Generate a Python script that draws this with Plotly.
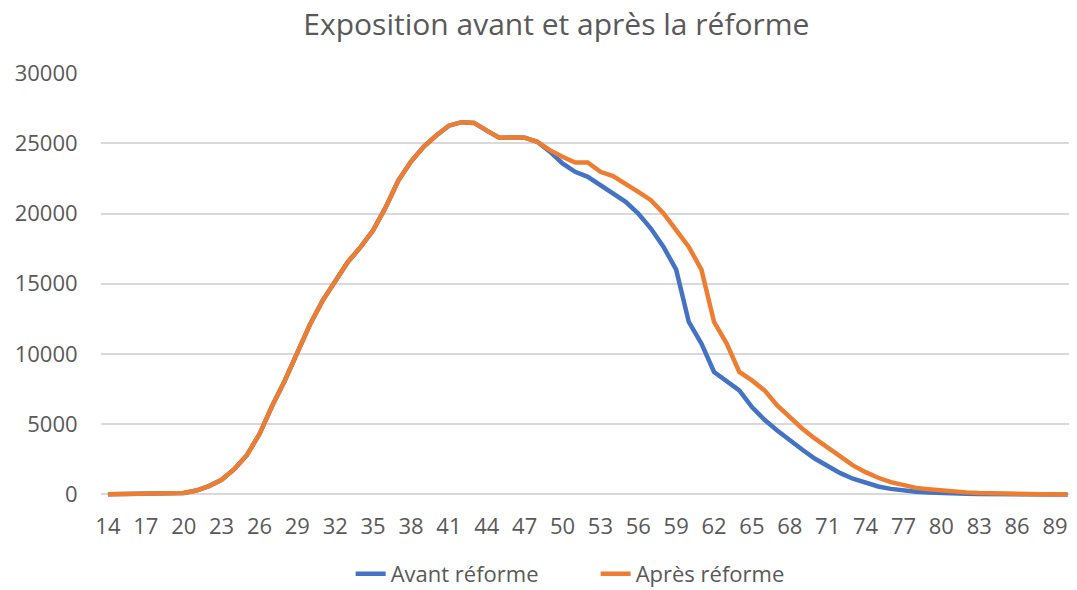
import plotly.graph_objects as go

ages = list(range(14, 91))

avant = [10, 15, 20, 25, 40, 60, 110, 280, 600, 1050, 1800, 2800, 4300, 6300, 8100,
         10100, 12100, 13800, 15250, 16550, 17600, 18800, 20450, 22350, 23700, 24750,
         25550, 26250, 26500, 26450, 25900, 25400, 25420, 25400, 25100,
         24400, 23560, 22970, 22610, 22020, 21430, 20830, 20000, 18930, 17620, 16000,
         12280, 10740, 8720, 8080, 7410, 6220, 5320, 4560, 3850, 3180, 2540, 2000,
         1520, 1120, 810, 570, 400, 285, 190, 150, 100, 70, 50, 35, 25, 18, 12, 8, 5, 3, 2]

apres = [10, 15, 20, 25, 40, 60, 110, 280, 600, 1050, 1800, 2800, 4300, 6300, 8100,
         10100, 12100, 13800, 15250, 16550, 17600, 18800, 20450, 22350, 23700, 24750,
         25550, 26250, 26500, 26450, 25900, 25400, 25420, 25400, 25100,
         24510, 24040, 23630, 23630, 22970, 22660, 22140, 21540, 20950, 20000, 18810,
         17620, 16000, 12280, 10740, 8720, 8120, 7410, 6340, 5510, 4680, 3970, 3330,
         2660, 2070, 1590, 1190, 880, 640, 470, 380, 280, 190, 150, 100, 70, 50, 35,
         25, 18, 12, 8]

x_ticks = list(range(14, 91, 3))
y_ticks = [0, 5000, 10000, 15000, 20000, 25000, 30000]

font_family = "Segoe UI, Open Sans, sans-serif"
grey = "#595959"

fig = go.Figure([
    go.Scatter(x=ages, y=avant, mode="lines", name="Avant réforme",
               line=dict(color="#4472C4", width=4.5)),
    go.Scatter(x=ages, y=apres, mode="lines", name="Après réforme",
               line=dict(color="#ED7D31", width=4.5)),
])

# the page body keeps its 8px margin, so the figure is shifted by 8px
fig.update_layout(
    width=1069, height=582,
    margin=dict(l=93, r=8, t=65, b=92, autoexpand=False),
    plot_bgcolor="white",
    paper_bgcolor="white",
    font=dict(family=font_family, color=grey, size=22),
    title=dict(text="Exposition avant et après la réforme", x=0.513, xanchor="center",
               y=0.972, yanchor="middle", font=dict(size=30, color=grey)),
    legend=dict(orientation="h", x=0.511, xanchor="center", y=-0.129, yanchor="top",
                entrywidth=200, bgcolor="rgba(0,0,0,0)", font=dict(size=22, color=grey)),
    showlegend=True,
)
fig.update_xaxes(range=[13.45, 90.11], tickvals=x_ticks, showgrid=False, zeroline=False,
                 showline=False, ticks="outside", ticklen=9, tickcolor="rgba(0,0,0,0)",
                 automargin=False, tickfont=dict(size=22, color=grey))
fig.update_yaxes(range=[-250, 30000], tickvals=y_ticks, tickformat="d", showgrid=True,
                 gridcolor="#d9d9d9", gridwidth=1.5, zeroline=False, showline=False,
                 ticks="outside", ticklen=18, tickcolor="rgba(0,0,0,0)", automargin=False,
                 tickfont=dict(size=22, color=grey))

fig.write_html("out.html")
